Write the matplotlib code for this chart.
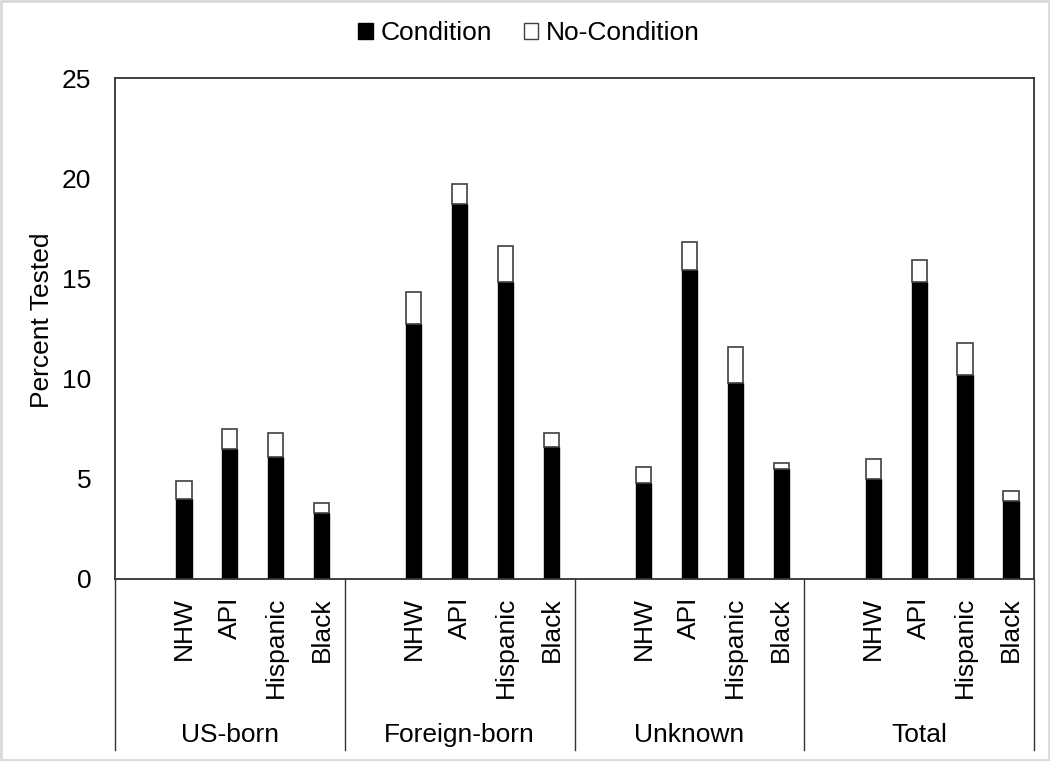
import matplotlib
matplotlib.use('Agg')
import matplotlib.pyplot as plt
from matplotlib.patches import Patch, Rectangle
import matplotlib.transforms as mtransforms

plt.rcParams['font.family'] = ['Liberation Sans', 'DejaVu Sans']

# 数据
groups = ['US-born', 'Foreign-born', 'Unknown', 'Total']
races = ['NHW', 'API', 'Hispanic', 'Black']
condition = [
    [4.0, 6.5, 6.1, 3.3],
    [12.7, 18.7, 14.8, 6.6],
    [4.8, 15.4, 9.8, 5.5],
    [5.0, 14.8, 10.2, 3.9],
]
no_condition = [
    [0.9, 1.0, 1.2, 0.5],
    [1.6, 1.0, 1.8, 0.7],
    [0.8, 1.4, 1.8, 0.3],
    [1.0, 1.1, 1.6, 0.5],
]
yticks = [0, 5, 10, 15, 20, 25]

FS = 19
fig = plt.figure(figsize=(10.5, 7.61), dpi=100)
ax = fig.add_axes([115 / 1050, 1 - 579 / 761, 919 / 1050, 501 / 761])

# 每组5个位置, 第一个留空
slots = len(races) + 1
xs, cond_vals, nocond_vals = [], [], []
for g in range(len(groups)):
    for i in range(len(races)):
        xs.append(g * slots + 1 + i)
        cond_vals.append(condition[g][i])
        nocond_vals.append(no_condition[g][i])

ax.bar(xs, cond_vals, width=0.33, color='black', edgecolor='black', linewidth=1.0)
ax.bar(xs, nocond_vals, width=0.33, bottom=cond_vals, color='white', edgecolor='#404040', linewidth=1.2)

n_slots = slots * len(groups)
ax.set_xlim(-0.5, n_slots - 0.5)
ax.set_ylim(0, 25)
ax.set_yticks(yticks)
ax.set_xticks([])
ax.tick_params(axis='y', length=0, pad=17, labelsize=FS)
for s in ax.spines.values():
    s.set_color('#333333')
    s.set_linewidth(1.3)

# 多级分类轴
trans = mtransforms.blended_transform_factory(ax.transData, ax.transAxes)
low = -(750 - 579) / 501
for g in range(len(groups) + 1):
    xb = g * slots - 0.5
    ax.plot([xb, xb], [0, low], transform=trans, color='#333333', lw=1.0, clip_on=False)
for x, i in zip(xs, range(len(xs))):
    ax.text(x, -(597 - 579) / 501, races[i % len(races)], transform=trans, rotation=90,
            ha='center', va='top', fontsize=FS)
for g, name in enumerate(groups):
    xc = g * slots + (slots - 1) / 2
    ax.text(xc, -(735 - 579) / 501, name, transform=trans, ha='center', va='center', fontsize=FS)

fig.text(42 / 1050, 1 - 320 / 761, 'Percent Tested', rotation=90, ha='center', va='center', fontsize=FS)

handles = [Patch(facecolor='black', edgecolor='black', label='Condition'),
           Patch(facecolor='white', edgecolor='#404040', label='No-Condition')]
fig.legend(handles=handles, loc='center', bbox_to_anchor=(0.504, 1 - 33 / 761), ncol=2,
           frameon=False, fontsize=FS, handlelength=0.55, handleheight=0.55,
           handletextpad=0.3, columnspacing=1.2)

fig.patches.append(Rectangle((0.001, 0.001), 0.998, 0.998, transform=fig.transFigure,
                             fill=False, edgecolor='#d9d9d9', linewidth=2))

fig.savefig('out.png', dpi=100)
